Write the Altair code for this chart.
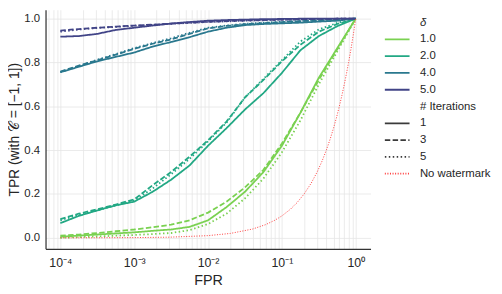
import altair as alt
import pandas as pd

# FPR grid (log-spaced, quarter decades)
FPR = [1e-4, 1.778e-4, 3.162e-4, 5.623e-4, 1e-3, 1.778e-3, 3.162e-3, 5.623e-3,
       1e-2, 1.778e-2, 3.162e-2, 5.623e-2, 1e-1, 0.1778, 0.3162, 0.5623, 1.0]

DELTAS = ["1.0", "2.0", "4.0", "5.0"]
ITERS = ["1", "3", "5"]

# TPR curves: TPR[delta][iterations]
TPR = {
    "1.0": {
        "1": [0.005, 0.010, 0.015, 0.020, 0.025, 0.032, 0.038, 0.050, 0.080, 0.140, 0.210, 0.300, 0.420, 0.570, 0.730, 0.865, 1.0],
        "3": [0.010, 0.015, 0.022, 0.030, 0.038, 0.048, 0.060, 0.080, 0.115, 0.165, 0.230, 0.310, 0.430, 0.570, 0.720, 0.860, 1.0],
        "5": [0.000, 0.003, 0.006, 0.010, 0.013, 0.017, 0.022, 0.035, 0.063, 0.110, 0.180, 0.270, 0.390, 0.535, 0.700, 0.850, 1.0],
    },
    "2.0": {
        "1": [0.067, 0.100, 0.125, 0.148, 0.165, 0.210, 0.265, 0.330, 0.420, 0.500, 0.585, 0.660, 0.752, 0.855, 0.920, 0.965, 1.0],
        "3": [0.085, 0.110, 0.130, 0.152, 0.175, 0.240, 0.300, 0.370, 0.445, 0.530, 0.640, 0.720, 0.805, 0.880, 0.940, 0.975, 1.0],
        "5": [0.080, 0.105, 0.125, 0.148, 0.170, 0.225, 0.290, 0.360, 0.440, 0.525, 0.640, 0.725, 0.810, 0.895, 0.950, 0.980, 1.0],
    },
    "4.0": {
        "1": [0.755, 0.780, 0.805, 0.825, 0.845, 0.872, 0.893, 0.915, 0.940, 0.958, 0.970, 0.975, 0.978, 0.981, 0.986, 0.990, 1.0],
        "3": [0.758, 0.785, 0.810, 0.835, 0.862, 0.885, 0.905, 0.930, 0.955, 0.966, 0.974, 0.979, 0.984, 0.988, 0.992, 0.995, 1.0],
        "5": [0.755, 0.783, 0.812, 0.838, 0.865, 0.888, 0.910, 0.935, 0.958, 0.968, 0.976, 0.981, 0.985, 0.989, 0.993, 0.996, 1.0],
    },
    "5.0": {
        "1": [0.917, 0.920, 0.930, 0.948, 0.958, 0.968, 0.977, 0.984, 0.990, 0.993, 0.995, 0.997, 0.998, 0.999, 0.999, 1.0, 1.0],
        "3": [0.945, 0.952, 0.958, 0.963, 0.968, 0.972, 0.977, 0.981, 0.985, 0.988, 0.991, 0.993, 0.995, 0.997, 0.998, 0.999, 1.0],
        "5": [0.940, 0.950, 0.957, 0.962, 0.967, 0.971, 0.976, 0.980, 0.984, 0.987, 0.990, 0.992, 0.994, 0.996, 0.998, 0.999, 1.0],
    },
}

# No-watermark baseline (TPR equals FPR)
NW_FPR = [1e-4, 3e-4, 1e-3, 3e-3, 1e-2, 2e-2, 4e-2, 6e-2, 0.08, 0.1, 0.13, 0.16, 0.2, 0.25,
          0.3, 0.35, 0.4, 0.45, 0.5, 0.55, 0.6, 0.65, 0.7, 0.75, 0.8, 0.85, 0.9, 0.95, 1.0]
NW_TPR = [1e-4, 3e-4, 1e-3, 3e-3, 1e-2, 2e-2, 4e-2, 6e-2, 0.08, 0.1, 0.13, 0.16, 0.2, 0.25,
          0.3, 0.35, 0.4, 0.45, 0.5, 0.55, 0.6, 0.65, 0.7, 0.75, 0.8, 0.85, 0.9, 0.95, 1.0]

COLORS = ["#7ad151", "#22a884", "#2a788e", "#414487"]
DASHES = [[1, 0], [5.5, 2.4], [1.5, 2.5]]

LEGEND_KEYS = ["δ", "1.0", "2.0", "4.0", "5.0", "# Iterations", "1", "3", "5", "No watermark"]
LEGEND_COLORS = ["transparent"] + COLORS + ["transparent", "#3a3a3a", "#3a3a3a", "#3a3a3a", "#ff3b3b"]
LEGEND_DASHES = [[1, 0]] * 5 + [[1, 0]] + DASHES + [[1, 1.6]]

X_TICKS = [7e-5, 8e-5, 9e-5,
           1e-4, 2e-4, 3e-4, 4e-4, 5e-4, 6e-4, 7e-4, 8e-4, 9e-4,
           1e-3, 2e-3, 3e-3, 4e-3, 5e-3, 6e-3, 7e-3, 8e-3, 9e-3,
           1e-2, 2e-2, 3e-2, 4e-2, 5e-2, 6e-2, 7e-2, 8e-2, 9e-2,
           0.1, 0.2, 0.3, 0.4, 0.5, 0.6, 0.7, 0.8, 0.9, 1.0]

rows = []
for d in DELTAS:
    for it in ITERS:
        for f, t in zip(FPR, TPR[d][it]):
            rows.append({"fpr": f, "tpr": t, "delta": d, "iters": it})
df = pd.DataFrame(rows)
nw = pd.DataFrame({"fpr": NW_FPR, "tpr": NW_TPR})
leg = pd.DataFrame({"key": LEGEND_KEYS, "fpr": [None] * len(LEGEND_KEYS), "tpr": [None] * len(LEGEND_KEYS)})

FONT = "Liberation Sans"
TXT = "#262626"

label_expr = ("datum.value == 0.0001 ? '10⁻⁴' : datum.value == 0.001 ? '10⁻³' : "
              "datum.value == 0.01 ? '10⁻²' : datum.value == 0.1 ? '10⁻¹' : "
              "datum.value == 1 ? '10⁰' : ''")

x_enc = alt.X("fpr:Q", scale=alt.Scale(type="log", domain=[6.3e-5, 1.585], nice=False),
              axis=alt.Axis(title="FPR", values=X_TICKS, labelExpr=label_expr,
                            labelOverlap=False, labelFlush=False, ticks=False,
                            labelFontSize=12.5, labelPadding=8, titlePadding=5))
y_enc = alt.Y("tpr:Q", scale=alt.Scale(domain=[-0.05, 1.04], nice=False, zero=False),
              axis=alt.Axis(title="TPR (with 𝒞 = [−1, 1])", values=[0, 0.2, 0.4, 0.6, 0.8, 1.0],
                            format=".1f", ticks=False, labelPadding=6,
                            titleFontSize=14, titleX=-31, titleBaseline="middle"))

main = alt.Chart(df).mark_line(strokeWidth=1.8, clip=True).encode(
    x=x_enc, y=y_enc,
    color=alt.Color("delta:N", scale=alt.Scale(domain=DELTAS, range=COLORS), legend=None),
    strokeDash=alt.StrokeDash("iters:N", scale=alt.Scale(domain=ITERS, range=DASHES), legend=None),
    detail="iters:N",
)

base_line = alt.Chart(nw).mark_line(strokeWidth=1, color="#ff3b3b", strokeDash=[1, 1.6], clip=True).encode(
    x=alt.X("fpr:Q"), y=alt.Y("tpr:Q"),
)

legend_props = dict(title=None, orient="none", legendX=350, legendY=7,
                    symbolType="M-2.5,0H2.5", symbolSize=100,
                    symbolStrokeWidth=1.8, symbolFillColor="transparent",
                    labelOffset=17, labelFontSize=11.5, labelFont=FONT,
                    labelColor=TXT, labelLimit=200, rowPadding=5.0, padding=0,
                    labelFontStyle={"expr": "datum.label == 'δ' ? 'italic' : 'normal'"})

legend_layer = alt.Chart(leg).mark_line(strokeWidth=1.8).encode(
    x=alt.X("fpr:Q"), y=alt.Y("tpr:Q"),
    color=alt.Color("key:N", scale=alt.Scale(domain=LEGEND_KEYS, range=LEGEND_COLORS),
                    legend=alt.Legend(**legend_props)),
    strokeDash=alt.StrokeDash("key:N", scale=alt.Scale(domain=LEGEND_KEYS, range=LEGEND_DASHES),
                              legend=alt.Legend(**legend_props)),
)

chart = alt.layer(main, base_line, legend_layer).resolve_scale(
    color="independent", strokeDash="independent"
).properties(
    width=329, height=242,
    autosize=alt.AutoSizeParams(type="none"),
    padding={"left": 38, "top": 0, "right": 125, "bottom": 44},
    background="white",
).configure_view(stroke=None).configure_axis(
    labelFont=FONT, titleFont=FONT, labelFontSize=11.5, titleFontSize=14.5,
    labelColor=TXT, titleColor=TXT, titleFontWeight="normal",
    gridColor="#e6e6e6", gridWidth=0.8, domainColor="#333333", domainWidth=1.25,
)

chart.save("out.html", embed_options={"renderer": "svg", "actions": False})
